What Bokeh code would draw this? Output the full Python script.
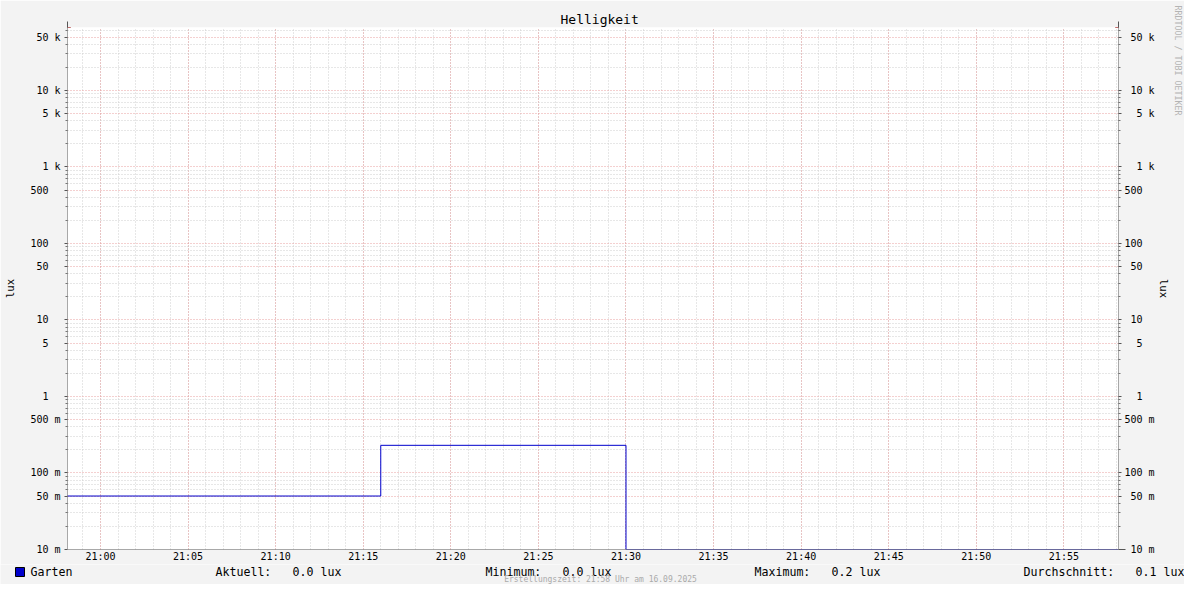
import pandas as pd
from bokeh.plotting import figure
from bokeh.layouts import column
from bokeh.models import (FixedTicker, LogAxis, Arrow, NormalHead,
                          DatetimeTickFormatter, Range1d, Title)
from bokeh.core.properties import value
from bokeh.embed import file_html
from bokeh.resources import INLINE

# ---------------- data ----------------
chart_title = "Helligkeit"
series_name = "Garten"
unit_label = "lux"
step_times = ["2025-09-16 20:58:00", "2025-09-16 21:16:00", "2025-09-16 21:30:00", "2025-09-16 21:59:00"]
step_values = [0.05, 0.23, 0.0, 0.0]
x_window = ["2025-09-16 20:58:07", "2025-09-16 21:58:07"]
y_window = [0.01, 66600]
y_tick_values = [0.01, 0.05, 0.1, 0.5, 1, 5, 10, 50, 100, 500, 1000, 5000, 10000, 50000]
y_tick_labels = ["10 m", "50 m", "100 m", "500 m", "1", "5", "10", "50", "100", "500",
                 "1 k", "5 k", "10 k", "50 k"]
x_tick_labels = ["21:00", "21:05", "21:10", "21:15", "21:20", "21:25", "21:30",
                 "21:35", "21:40", "21:45", "21:50", "21:55"]
stat_names = ["Aktuell:", "Minimum:", "Maximum:", "Durchschnitt:"]
stat_values = ["0.0 lux", "0.0 lux", "0.2 lux", "0.1 lux"]
footer_text = "Erstellungszeit: 21:58 Uhr am 16.09.2025"
watermark_text = "RRDTOOL / TOBI OETIKER"

# ---------------- layout constants (pixels) ----------------
MONO = "DejaVu Sans Mono"
NB = "\u00a0"
W = 1184
MAIN_H = 564
STRIP_H = 584 - MAIN_H
FRAME_W, FRAME_H = 1051, 522
series_x = 30
stat_name_x = [215, 485, 754, 1023]
stat_value_x = [292, 562, 831, 1135]
row_y = 7.5
footer_x = 600
footer_y = 14.8
swatch_box = (15, 24, 3, 12)  # left, right, top, bottom in strip px


def ms(ts):
    return pd.Timestamp(ts).value / 1e6


def pad(lbl):
    parts = lbl.split(" ")
    num = parts[0]
    u = parts[1] if len(parts) > 1 else NB
    s_ = num + NB + u
    return NB * (5 - len(s_)) + s_


day = "2025-09-16 "
x_major = [ms(day + t) for t in x_tick_labels]
x_minor = [ms(t) for t in pd.date_range(day + "20:59", day + "21:58", freq="1min")]

y_minor = []
for e in range(-2, 5):
    for m in (2, 3, 4, 6, 7, 8, 9):
        v = m * 10.0 ** e
        if v <= y_window[1]:
            y_minor.append(v)

xs = [pd.Timestamp(t) for t in step_times]
ys = [max(v, y_window[0]) for v in step_values]

# ---------------- main chart ----------------
p = figure(width=W, height=MAIN_H, x_axis_type="datetime", y_axis_type="log",
           x_range=Range1d(pd.Timestamp(x_window[0]), pd.Timestamp(x_window[1])),
           y_range=Range1d(y_window[0], y_window[1]),
           title=chart_title,
           output_backend="svg", toolbar_location=None,
           min_border_left=67, min_border_right=66, min_border_top=27, min_border_bottom=15,
           background_fill_color="white", border_fill_color="#F3F3F3",
           outline_line_color=None)

p.title.align = "left"
p.title.offset = 493
p.title.standoff = 2
p.title.text_font = MONO
p.title.text_font_size = "13px"
p.title.text_font_style = "normal"
p.title.text_color = "black"

yt = FixedTicker(ticks=y_tick_values, minor_ticks=y_minor)
xt = FixedTicker(ticks=x_major, minor_ticks=x_minor)
overrides = {v: pad(l) for v, l in zip(y_tick_values, y_tick_labels)}

left = p.yaxis[0]
left.ticker = yt
left.major_label_overrides = overrides

right = LogAxis(ticker=yt, major_label_overrides=dict(overrides))
p.add_layout(right, "right")

for ax in (left, right):
    ax.axis_line_color = None
    ax.major_tick_out = 3
    ax.major_tick_in = 0
    ax.minor_tick_out = 2
    ax.minor_tick_in = 0
    ax.major_tick_line_color = "#555555"
    ax.minor_tick_line_color = "#777777"
    ax.major_label_text_font = MONO
    ax.major_label_text_font_size = "10px"
    ax.major_label_text_color = "black"
    ax.axis_label = unit_label
    ax.axis_label_text_font = MONO
    ax.axis_label_text_font_size = "10.5px"
    ax.axis_label_text_font_style = "normal"
    ax.axis_label_text_color = "black"
left.major_label_standoff = 4
left.axis_label_standoff = 11
right.major_label_standoff = 3
right.axis_label_standoff = 0

bx = p.xaxis[0]
bx.ticker = xt
bx.formatter = DatetimeTickFormatter(seconds="%H:%M", minsec="%H:%M", minutes="%H:%M",
                                     hourmin="%H:%M", hours="%H:%M")
bx.axis_line_color = None
bx.major_tick_out = 0
bx.major_tick_in = 0
bx.minor_tick_out = 0
bx.minor_tick_in = 0
bx.major_label_standoff = 1
bx.major_label_text_font = MONO
bx.major_label_text_font_size = "10px"
bx.major_label_text_color = "black"

p.xgrid.ticker = xt
p.ygrid.ticker = yt
for g in (p.xgrid, p.ygrid):
    g.grid_line_color = "#E8A0A0"
    g.grid_line_dash = "1 2"
    g.grid_line_width = 1
    g.minor_grid_line_color = "#CFCFCF"
    g.minor_grid_line_dash = "1 2"
    g.minor_grid_line_width = 1

p.step(x=xs, y=ys, mode="after", line_color="#0000CC", line_width=1)

RED = "#A01818"


def axis_arrow(x0, y0, x1, y1):
    p.add_layout(Arrow(x_start=x0, y_start=y0, x_end=x1, y_end=y1,
                       start_units="screen", end_units="screen",
                       line_color="#555555", line_width=1,
                       end=NormalHead(size=6, fill_color=RED, line_color=RED)))


axis_arrow(0, 0, 0, FRAME_H + 6)
axis_arrow(FRAME_W, 0, FRAME_W, FRAME_H + 6)
axis_arrow(-3, 0, FRAME_W + 7, 0)

watermark = Title(text=watermark_text, align="left", offset=-22, standoff=0,
                  text_font=MONO, text_font_size="8.3px", text_font_style="normal",
                  text_color="#B4B4B4")
p.add_layout(watermark, "right")

# ---------------- legend / statistics strip ----------------
s = figure(width=W, height=STRIP_H, x_range=Range1d(0, W), y_range=Range1d(STRIP_H, 0),
           x_axis_location=None, y_axis_location=None,
           output_backend="svg", toolbar_location=None,
           min_border=0, min_border_left=0, min_border_right=0,
           min_border_top=0, min_border_bottom=0,
           background_fill_color="#F3F3F3", border_fill_color="#F3F3F3",
           outline_line_color=None)
s.grid.grid_line_color = None

for fig in (p, s):
    if "frame_align" in fig.properties():
        fig.frame_align = False

s.quad(left=[swatch_box[0]], right=[swatch_box[1]], top=[swatch_box[2]], bottom=[swatch_box[3]],
       fill_color="#0000CC", line_color="black", line_width=1)

row_texts = [series_name] + stat_names + stat_values
row_x = [series_x] + stat_name_x + stat_value_x
s.text(x=row_x, y=[row_y] * len(row_x), text=row_texts,
       text_font=value(MONO), text_font_size=value("11.6px"),
       text_baseline="middle", text_align="left", text_color="black")

s.text(x=[footer_x], y=[footer_y], text=[footer_text],
       text_font=value(MONO), text_font_size=value("8px"),
       text_baseline="middle", text_align="center", text_color="#AAAAAA")

layout = column(p, s, spacing=0)
open("out.html", "w").write(file_html(layout, INLINE))
